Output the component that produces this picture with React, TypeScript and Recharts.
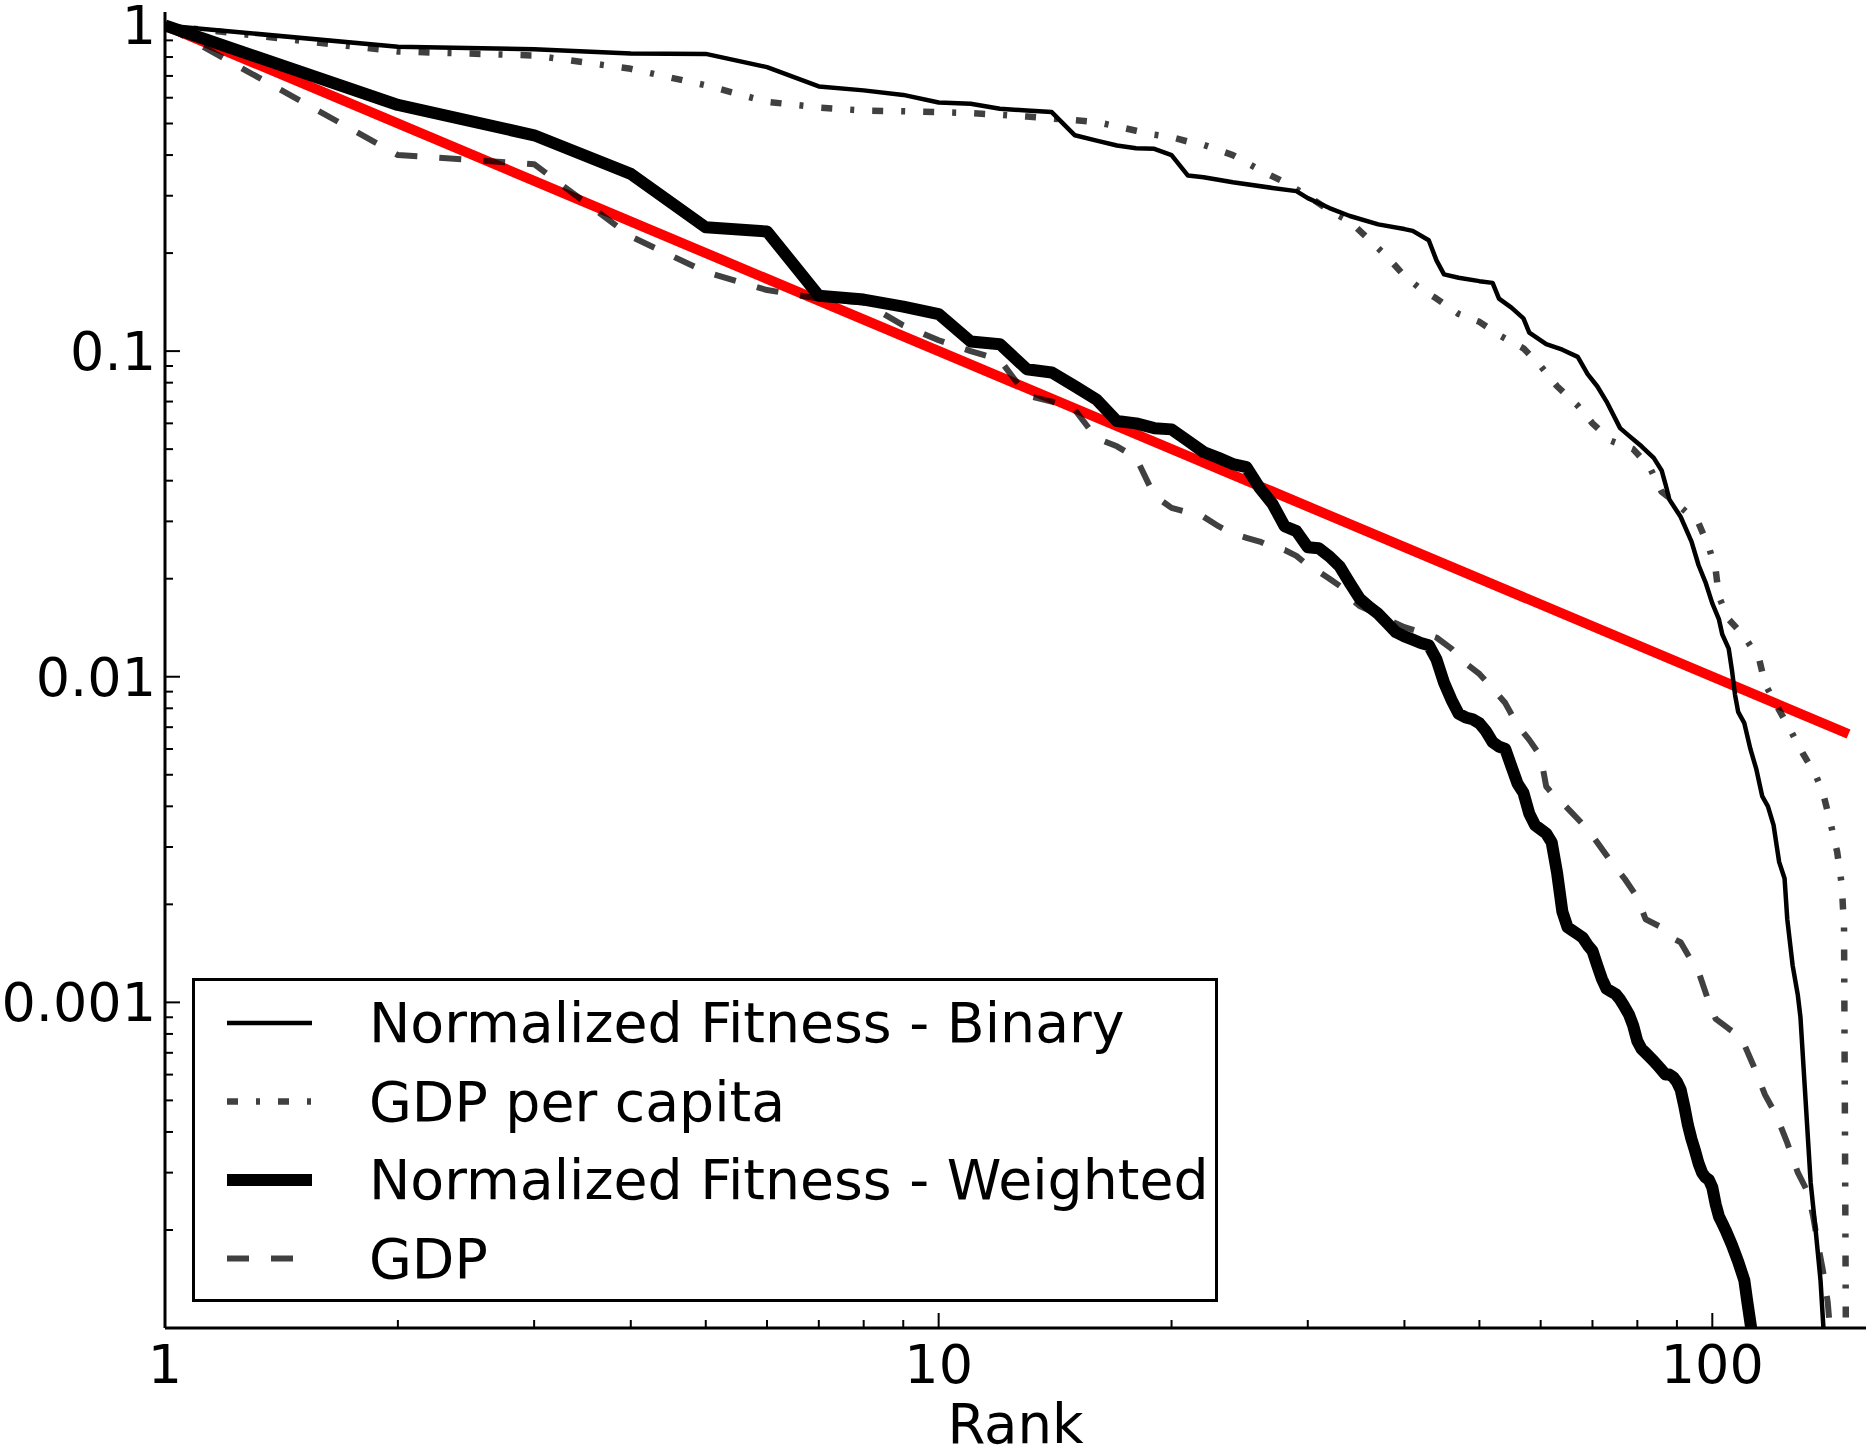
import React from "react";
import { LineChart, Line, XAxis, YAxis } from "recharts";

type Pt = [number, number];

// [rank, normalized value]
const binaryFitness: Pt[] = [
  [1, 1], [2, 0.86], [3, 0.845], [4, 0.82], [5, 0.818], [6, 0.745], [7, 0.65], [8, 0.632],
  [9, 0.612], [10, 0.58], [11, 0.575], [12, 0.555], [13, 0.548], [14, 0.542], [15, 0.46],
  [16, 0.443], [17, 0.428], [18, 0.42], [19, 0.418], [20, 0.4], [21, 0.346], [22, 0.342],
  [24, 0.33], [27, 0.317], [29, 0.31], [30, 0.295], [32, 0.275], [34, 0.26], [37, 0.245],
  [40, 0.237], [41, 0.234], [43, 0.219], [44, 0.19], [45, 0.172], [47, 0.168], [50, 0.164],
  [52, 0.162], [53, 0.145], [55, 0.136], [57, 0.126], [58, 0.114], [61, 0.105], [64, 0.101],
  [67, 0.096], [69, 0.085], [71, 0.078], [73, 0.07], [76, 0.058], [78, 0.055], [81, 0.051],
  [84, 0.047], [86, 0.043], [87, 0.039], [88, 0.035], [91, 0.031], [94, 0.026], [96, 0.022],
  [98, 0.0195], [100, 0.0168], [102, 0.015], [103, 0.0135], [105, 0.0122], [106, 0.0105],
  [107, 0.0088], [108, 0.0078], [110, 0.0072], [112, 0.006], [114, 0.0052], [116, 0.0043],
  [118, 0.004], [120, 0.0035], [122, 0.0027], [124, 0.0024], [125, 0.0018], [127, 0.0013],
  [129, 0.00105], [130, 0.0009], [132, 0.0005], [134, 0.00028], [136, 0.0002],
  [138, 0.00014], [140, 0.00008],
];

const gdpPerCapita: Pt[] = [
  [1, 1], [2, 0.832], [3, 0.809], [4, 0.736], [5, 0.655], [6, 0.583], [7, 0.56], [8, 0.548],
  [9, 0.545], [10, 0.542], [11, 0.538], [12, 0.532], [13, 0.525], [14, 0.518], [15, 0.512],
  [16, 0.505], [17, 0.49], [18, 0.475], [19, 0.462], [20, 0.454], [21, 0.44], [22, 0.43],
  [24, 0.4], [26, 0.36], [28, 0.33], [30, 0.3], [32, 0.27], [34, 0.25], [36, 0.22],
  [38, 0.195], [40, 0.17], [42, 0.155], [44, 0.145], [47, 0.13], [50, 0.123], [53, 0.112],
  [57, 0.102], [60, 0.09], [63, 0.078], [67, 0.068], [70, 0.06], [74, 0.053], [79, 0.05],
  [83, 0.044], [86, 0.037], [90, 0.034], [96, 0.0296], [99, 0.025], [101, 0.0213],
  [102, 0.0176], [105, 0.015], [110, 0.0133], [115, 0.0113], [117, 0.0095], [122, 0.0079],
  [126, 0.0069], [131, 0.0058], [136, 0.005], [139, 0.0044], [142, 0.0036], [145, 0.0029],
  [147, 0.0023], [148, 0.0017], [149, 0.00005],
];

const weightedFitness: Pt[] = [
  [1, 1], [2, 0.57], [3, 0.46], [4, 0.35], [5, 0.24], [6, 0.233], [7, 0.148], [8, 0.144],
  [9, 0.137], [10, 0.13], [11, 0.107], [12, 0.105], [13, 0.088], [14, 0.086], [15, 0.078],
  [16, 0.071], [17, 0.061], [18, 0.06], [19, 0.058], [20, 0.0575], [21, 0.053], [22, 0.049],
  [23, 0.047], [24, 0.045], [25, 0.044], [26, 0.038], [27, 0.034], [28, 0.029], [29, 0.028],
  [30, 0.025], [31, 0.0248], [32, 0.0234], [33, 0.0218], [34, 0.0194], [35, 0.0174],
  [36, 0.0164], [37, 0.0156], [38, 0.0146], [39, 0.0137], [40, 0.0133], [41, 0.013],
  [42, 0.0127], [43, 0.0125], [44, 0.0113], [45, 0.0096], [46, 0.0085], [47, 0.0077],
  [48, 0.0075], [49, 0.0074], [50, 0.0072], [51, 0.0068], [52, 0.0063], [53, 0.0061],
  [54, 0.006], [55, 0.0053], [56, 0.0047], [57, 0.0044], [58, 0.0038], [59, 0.0035],
  [60, 0.0034], [61, 0.0033], [62, 0.0031], [63, 0.0025], [64, 0.0019], [65, 0.0017],
  [66, 0.00166], [67, 0.00162], [68, 0.00158], [69, 0.0015], [70, 0.00144], [71, 0.0013],
  [72, 0.00118], [73, 0.0011], [74, 0.00108], [75, 0.00106], [76, 0.00102], [77, 0.00097],
  [78, 0.00092], [79, 0.00085], [80, 0.00076], [81, 0.00072], [82, 0.0007], [83, 0.00068],
  [84, 0.00066], [85, 0.00064], [86, 0.00062], [87, 0.0006], [88, 0.0006], [89, 0.00059],
  [90, 0.00057], [91, 0.00054], [92, 0.00048], [93, 0.00042], [94, 0.00038], [95, 0.00035],
  [96, 0.00032], [97, 0.0003], [98, 0.00029], [99, 0.000285], [100, 0.00027], [101, 0.00024],
  [102, 0.00022], [103, 0.00021], [104, 0.0002], [106, 0.00018], [108, 0.00016],
  [110, 0.00014], [111, 0.00012], [113, 0.00009], [115, 0.00006],
];

const gdp: Pt[] = [
  [1, 1], [2, 0.4], [3, 0.375], [4, 0.225], [5, 0.175], [6, 0.154], [7, 0.145], [8, 0.141],
  [9, 0.12], [10, 0.108], [11, 0.1], [12, 0.094], [13, 0.073], [14, 0.07], [15, 0.066],
  [16, 0.054], [17, 0.051], [18, 0.047], [19, 0.036], [20, 0.033], [21, 0.032], [22, 0.031],
  [23, 0.029], [24, 0.0275], [25, 0.0267], [26, 0.026], [27, 0.025], [28, 0.0245],
  [29, 0.0235], [30, 0.022], [31, 0.021], [32, 0.02], [33, 0.019], [34, 0.0175], [35, 0.0165],
  [36, 0.016], [38, 0.015], [40, 0.0142], [42, 0.0137], [44, 0.0132], [46, 0.0122],
  [48, 0.011], [50, 0.0102], [52, 0.0092], [54, 0.0083], [56, 0.0071], [58, 0.0064],
  [60, 0.0057], [61, 0.0046], [62, 0.0044], [64, 0.0041], [66, 0.0038], [69, 0.0034],
  [71, 0.0031], [74, 0.0027], [77, 0.0024], [80, 0.0021], [82, 0.0018], [86, 0.0017],
  [89, 0.00157], [91, 0.00153], [93, 0.0014], [96, 0.00124], [99, 0.001], [101, 0.00089],
  [105, 0.00083], [109, 0.00078], [113, 0.00064], [117, 0.00052], [121, 0.00045],
  [125, 0.00037], [129, 0.0003], [133, 0.00026], [135, 0.00022], [137, 0.00018],
  [139, 0.00015], [141, 0.00012], [143, 0.00008],
];

// red reference line (slope -1 in log-log)
const powerLawFit: Pt[] = [[1, 1], [150, 0.00667]];

const xMajorTicks = [1, 10, 100];
const xTickLabels = ["1", "10", "100"];
const xMinorTicks = [2, 3, 4, 5, 6, 7, 8, 9, 20, 30, 40, 50, 60, 70, 80, 90];

const yMajorTicks = [1, 0.1, 0.01, 0.001, 0.0001];
const yTickLabels = ["1", "0.1", "0.01", "0.001", ""];
const yMinorTicks = [
  0.9, 0.8, 0.7, 0.6, 0.5, 0.4, 0.3, 0.2,
  0.09, 0.08, 0.07, 0.06, 0.05, 0.04, 0.03, 0.02,
  0.009, 0.008, 0.007, 0.006, 0.005, 0.004, 0.003, 0.002,
  0.0009, 0.0008, 0.0007, 0.0006, 0.0005, 0.0004, 0.0003, 0.0002,
];

const W = 1870;
const H = 1456;
const FONT = "DejaVu Sans";
const FS = 54;
const LEGEND_FS = 55.3;
const MAJOR = 15;
const MINOR = 8;

const series = [
  { name: "Normalized Fitness - Binary", data: binaryFitness, width: 4.5, dash: undefined, opacity: 1 },
  { name: "GDP per capita", data: gdpPerCapita, width: 6.5, dash: "11 18 4 18", opacity: 0.75 },
  { name: "Normalized Fitness - Weighted", data: weightedFitness, width: 12, dash: undefined, opacity: 1 },
  { name: "GDP", data: gdp, width: 6, dash: "22 22", opacity: 0.75 },
];

const toRows = (pts: Pt[]) => pts.map(([rank, value]) => ({ rank, value }));

const tickLen = (v: number, majors: number[]) => (majors.indexOf(v) >= 0 ? MAJOR : MINOR);

const BottomTick = ({ x, y, payload }: any) => {
  const i = xMajorTicks.indexOf(payload.value);
  return (
    <g>
      <line x1={x} x2={x} y1={y} y2={y - tickLen(payload.value, xMajorTicks)} stroke="#000" strokeWidth={2} />
      {i >= 0 && (
        <text x={x} y={y + 55} textAnchor="middle" fontSize={FS} fontFamily={FONT} fill="#000">
          {xTickLabels[i]}
        </text>
      )}
    </g>
  );
};

const TopTick = ({ x, y, payload }: any) => (
  <line x1={x} x2={x} y1={y} y2={y + tickLen(payload.value, xMajorTicks)} stroke="#000" strokeWidth={2} />
);

const LeftTick = ({ x, y, payload }: any) => {
  const i = yMajorTicks.indexOf(payload.value);
  return (
    <g>
      <line x1={x} x2={x + tickLen(payload.value, yMajorTicks)} y1={y} y2={y} stroke="#000" strokeWidth={2} />
      {i >= 0 && yTickLabels[i] && (
        <text x={x - 9} y={y + 19} textAnchor="end" fontSize={FS} fontFamily={FONT} fill="#000">
          {yTickLabels[i]}
        </text>
      )}
    </g>
  );
};

const RightTick = ({ x, y, payload }: any) => (
  <line x1={x} x2={x - tickLen(payload.value, yMajorTicks)} y1={y} y2={y} stroke="#000" strokeWidth={2} />
);

const axisLine = { stroke: "#000", strokeWidth: 3 };

const App = () => {
  const xTicks = [...xMajorTicks, ...xMinorTicks];
  const yTicks = [...yMajorTicks, ...yMinorTicks];

  return (
    <div
      style={{
        position: "absolute",
        left: 0,
        top: 0,
        width: W,
        height: H,
        background: "#fff",
        fontFamily: FONT,
      }}
    >
      <LineChart width={W} height={H} margin={{ top: 12, right: 4, bottom: 0, left: 0 }}>
        <XAxis
          xAxisId="bottom"
          type="number"
          dataKey="rank"
          scale="log"
          domain={[1, 158]}
          allowDataOverflow
          ticks={xTicks}
          interval={0}
          tickSize={0}
          tickMargin={0}
          tickLine={false}
          axisLine={axisLine}
          height={128}
          tick={(p: any) => <BottomTick {...p} />}
          label={({ viewBox }: any) => (
            <text
              x={viewBox.x + viewBox.width / 2}
              y={viewBox.y + 115}
              textAnchor="middle"
              fontSize={54.5}
              fontFamily={FONT}
              fill="#000"
            >
              Rank
            </text>
          )}
        />
        <XAxis
          xAxisId="top"
          orientation="top"
          type="number"
          dataKey="rank"
          scale="log"
          domain={[1, 158]}
          allowDataOverflow
          ticks={xTicks}
          interval={0}
          tickSize={0}
          tickMargin={0}
          tickLine={false}
          axisLine={axisLine}
          height={0}
          tick={(p: any) => <TopTick {...p} />}
        />
        <YAxis
          yAxisId="left"
          type="number"
          scale="log"
          domain={[0.0001, 1.1]}
          allowDataOverflow
          ticks={yTicks}
          interval={0}
          tickSize={0}
          tickMargin={0}
          tickLine={false}
          axisLine={axisLine}
          width={165}
          tick={(p: any) => <LeftTick {...p} />}
        />
        <YAxis
          yAxisId="right"
          orientation="right"
          type="number"
          scale="log"
          domain={[0.0001, 1.1]}
          allowDataOverflow
          ticks={yTicks}
          interval={0}
          tickSize={0}
          tickMargin={0}
          tickLine={false}
          axisLine={axisLine}
          width={0}
          tick={(p: any) => <RightTick {...p} />}
        />

        <Line
          xAxisId="bottom"
          yAxisId="left"
          data={toRows(powerLawFit)}
          dataKey="value"
          type="linear"
          stroke="#ff0000"
          strokeWidth={10}
          strokeLinecap="butt"
          dot={false}
          activeDot={false}
          isAnimationActive={false}
        />
        {series.map((s) => (
          <Line
            key={s.name}
            xAxisId="bottom"
            yAxisId="left"
            data={toRows(s.data)}
            dataKey="value"
            name={s.name}
            type="linear"
            stroke="#000"
            strokeOpacity={s.opacity}
            strokeWidth={s.width}
            strokeDasharray={s.dash}
            strokeLinejoin="round"
            strokeLinecap="butt"
            dot={false}
            activeDot={false}
            isAnimationActive={false}
          />
        ))}
      </LineChart>

      {/* legend box, lower left */}
      <svg width={W} height={H} style={{ position: "absolute", left: 0, top: 0, pointerEvents: "none" }}>
        <rect x={193.5} y={979.5} width={1023} height={321} fill="#fff" stroke="#000" strokeWidth={3} />
        {series.map((s, i) => {
          const base = 1042 + i * 78.5;
          return (
            <g key={s.name}>
              <line
                x1={227}
                x2={312}
                y1={base - 19}
                y2={base - 19}
                stroke="#000"
                strokeOpacity={s.opacity}
                strokeWidth={s.width}
                strokeDasharray={s.dash}
              />
              <text x={369} y={base} fontSize={LEGEND_FS} fontFamily={FONT} fill="#000">
                {s.name}
              </text>
            </g>
          );
        })}
      </svg>
    </div>
  );
};

export default App;
